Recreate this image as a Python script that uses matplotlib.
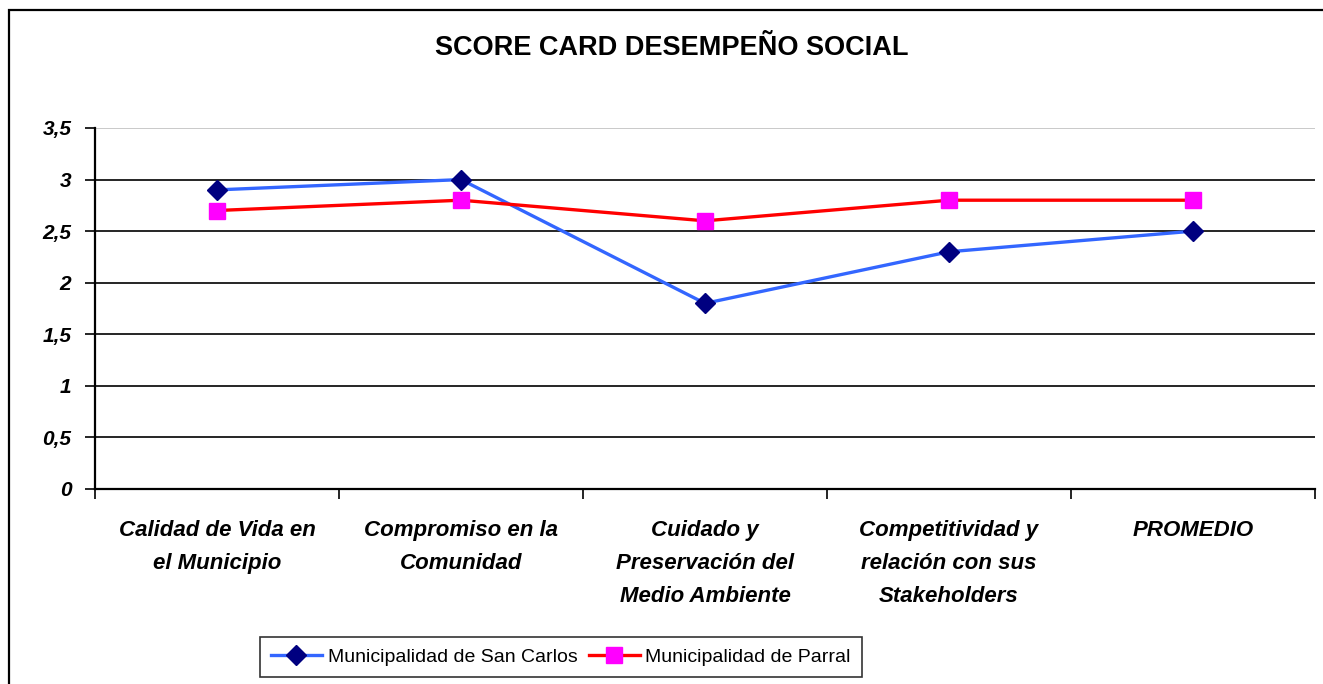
import matplotlib
matplotlib.use("Agg")
import matplotlib.pyplot as plt
import matplotlib.patches as patches
import numpy as np

# datos
categorias = ["Calidad de Vida en\nel Municipio", "Compromiso en la\nComunidad",
              "Cuidado y\nPreservación del\nMedio Ambiente",
              "Competitividad y\nrelación con sus\nStakeholders", "PROMEDIO"]
san_carlos = [2.9, 3.0, 1.8, 2.3, 2.5]
parral = [2.7, 2.8, 2.6, 2.8, 2.8]
y_ticks = [0, 0.5, 1, 1.5, 2, 2.5, 3, 3.5]
y_labels = ["0", "0,5", "1", "1,5", "2", "2,5", "3", "3,5"]

W, H = 1323, 684
fig = plt.figure(figsize=(W / 100, H / 100), dpi=100)
plt.rcParams['font.family'] = ['Liberation Sans', 'DejaVu Sans']

# marco exterior
fig.patches.append(patches.Rectangle((9 / W, -0.1), 1.2, 1 - 10 / H + 0.1,
                                     transform=fig.transFigure, fill=False,
                                     edgecolor='black', lw=1.6))

ax = fig.add_axes([95 / W, 1 - 489 / H, (1315 - 95) / W, (489 - 128) / H])
x = np.arange(len(categorias))

for yv in y_ticks[1:-1]:
    ax.axhline(yv, color='black', lw=1.2, zorder=1)
ax.axhline(3.5, color='#c0c0c0', lw=1.2, zorder=1)

ax.plot(x, san_carlos, color='#3366ff', lw=2.4, marker='D', markersize=10,
        markerfacecolor='#000080', markeredgecolor='#000080', zorder=3,
        label='Municipalidad de San Carlos')
ax.plot(x, parral, color='#ff0000', lw=2.4, marker='s', markersize=11,
        markerfacecolor='#ff00ff', markeredgecolor='#ff00ff', zorder=3,
        label='Municipalidad de Parral')

ax.set_xlim(-0.5, 4.5)
ax.set_ylim(0, 3.5)
ax.set_yticks(y_ticks)
ax.set_yticklabels(y_labels, fontsize=15, fontweight='bold', fontstyle='italic')
ax.tick_params(axis='y', length=7, width=1.2, pad=10)

ax.set_xticks(x)
ax.set_xticklabels(categorias, fontsize=16, fontweight='bold', fontstyle='italic',
                   linespacing=1.75, va='top')
ax.tick_params(axis='x', which='major', length=0, pad=22)
ax.set_xticks(np.arange(-0.5, 5, 1), minor=True)
ax.tick_params(axis='x', which='minor', length=7, width=1.2)

for s in ['top', 'right']:
    ax.spines[s].set_visible(False)
ax.spines['left'].set_linewidth(1.6)
ax.spines['bottom'].set_linewidth(1.6)

fig.text(672 / W, 1 - 48 / H, "SCORE CARD DESEMPEÑO SOCIAL", ha='center', va='center',
         fontsize=19.5, fontweight='bold')

leg = fig.legend(loc='center', bbox_to_anchor=(561 / W, 1 - 657 / H), ncol=2,
                 fontsize=14, frameon=True, fancybox=False,
                 edgecolor='black', handlelength=2.6, columnspacing=0.6, handletextpad=0.3,
                 borderpad=0.6)
leg.get_frame().set_linewidth(1.2)

fig.savefig("out.png", dpi=100)
